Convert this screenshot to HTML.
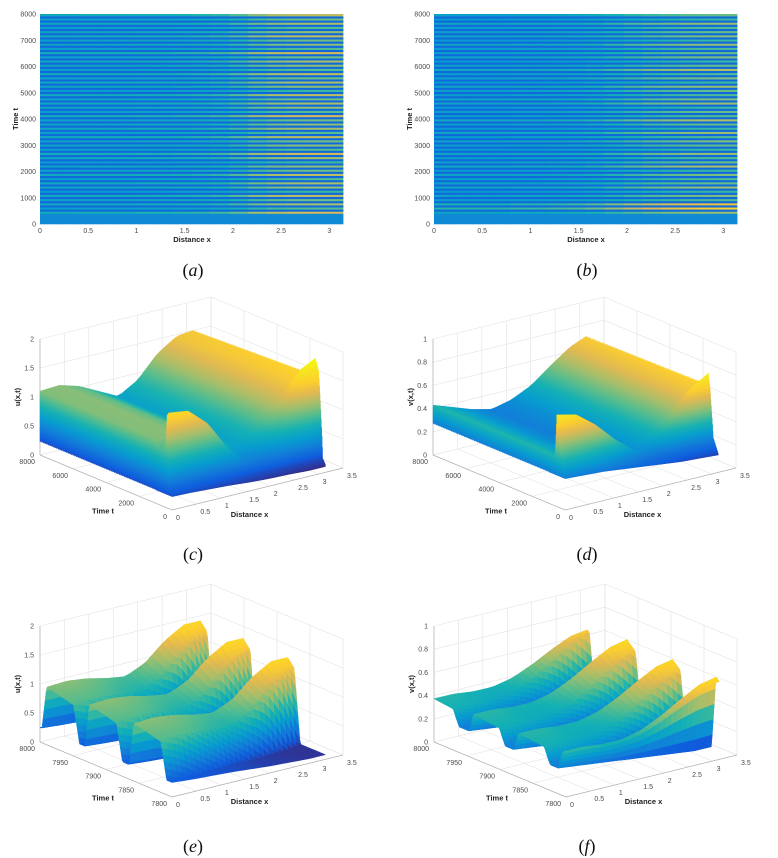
<!DOCTYPE html>
<html><head><meta charset="utf-8"><style>
html,body{margin:0;padding:0;background:#fff;}
svg{display:block;}
text{font-family:"Liberation Sans",sans-serif;}
.tick{font-size:7px;fill:#4a4a4a;}
.ttl{font-size:7.5px;font-weight:bold;fill:#222;}
.cap{font-family:"Liberation Serif",serif;font-size:18px;fill:#111;}
</style></head><body>
<svg id="fig" width="778" height="858" viewBox="0 0 778 858" xmlns="http://www.w3.org/2000/svg">
<defs id="defs"></defs>
<text class="cap" x="193" y="276" text-anchor="middle">(<tspan font-style="italic">a</tspan>)</text>
<text class="cap" x="587" y="276" text-anchor="middle">(<tspan font-style="italic">b</tspan>)</text>
<text class="cap" x="193" y="560" text-anchor="middle">(<tspan font-style="italic">c</tspan>)</text>
<text class="cap" x="587" y="560" text-anchor="middle">(<tspan font-style="italic">d</tspan>)</text>
<text class="cap" x="193" y="852" text-anchor="middle">(<tspan font-style="italic">e</tspan>)</text>
<text class="cap" x="587" y="852" text-anchor="middle">(<tspan font-style="italic">f</tspan>)</text>
</svg>
<script>
// ---------- heatmap data ----------
const heatColProfA = [0.14,0.14,0.15,0.15,0.15,0.16,0.16,0.17,0.18,0.2,0.24,0.3,0.34,0.36,0.37,0.37];
const heatAmpA = [0.9,1.0,1.3,0.8,1.1,0.9,1.2,0.7,1.0,1.1,0.8,1.2,0.9,1.0,0.7,1.1,1.3,0.8,1.0,0.9,1.2,0.8,1.1,1.0,0.9,1.3,0.8,1.0,1.1,0.9,1.2,0.7,1.0,1.1,0.9,1.2,0.8,1.0,1.1,0.9,1.3,0.8,1.0,0.9,1.2,1.0,0.8,1.1,0.9,1.2];
const heatColProfB = [0.12,0.12,0.12,0.12,0.13,0.13,0.14,0.15,0.17,0.2,0.23,0.26,0.28,0.3,0.31,0.32];
const heatAmpB = [0.8,1.0,1.2,1.9,1.7,0.9,1.1,0.8,1.2,1.0,0.9,1.1,0.8,1.3,1.0,0.9,1.2,0.8,1.0,1.1,0.9,1.2,0.8,1.0,1.3,0.9,1.0,0.8,1.2,1.1,0.9,1.0,1.2,0.8,1.1,0.9,1.3,1.0,0.8,1.1,1.0,0.9,1.2,0.8,1.1,1.0,0.9,1.2,0.8,1.0];
const heatYTicks = [0,1000,2000,3000,4000,5000,6000,7000,8000];
const heatXTicks = [0,0.5,1,1.5,2,2.5,3];
// ---------- 3D data (c,d): envelope rows ----------
const xsGrid = [0,0.4,0.8,1.2,1.6,2.0,2.4,2.8,3.14];
const rowsTC = [8000,1000,800,600,400,300,200,150,0];
const rowsTopC = [
 [1.1,1.12,1.02,0.85,0.68,0.88,1.25,1.47,1.5],
 [1.1,1.12,1.02,0.85,0.68,0.88,1.25,1.5,1.6],
 [1.0,1.0,0.9,0.8,0.65,0.8,1.2,1.65,1.75],
 [0.9,0.9,0.8,0.7,0.6,0.75,1.1,1.75,1.9],
 [1.1,1.05,0.85,0.62,0.5,0.6,0.9,1.45,1.7],
 [1.6,1.55,1.25,0.8,0.5,0.5,0.7,1.0,1.2],
 [1.65,1.6,1.3,0.8,0.45,0.4,0.5,0.6,0.6],
 [0.35,0.34,0.3,0.27,0.24,0.22,0.2,0.2,0.22],
 [0.25,0.24,0.22,0.2,0.18,0.16,0.15,0.14,0.14]];
const botC = [0.23,0.22,0.2,0.18,0.15,0.13,0.12,0.1,0.1];
const rowsTD = [8000,1000,800,600,500,400,300,0];
const rowsTopD = [
 [0.43,0.37,0.31,0.27,0.31,0.39,0.52,0.64,0.7],
 [0.43,0.37,0.31,0.27,0.31,0.39,0.52,0.66,0.72],
 [0.4,0.35,0.3,0.27,0.3,0.38,0.52,0.7,0.78],
 [0.45,0.42,0.34,0.28,0.28,0.35,0.5,0.72,0.82],
 [0.79,0.75,0.62,0.45,0.32,0.3,0.42,0.62,0.7],
 [0.78,0.74,0.6,0.44,0.3,0.28,0.35,0.45,0.5],
 [0.55,0.5,0.42,0.33,0.27,0.24,0.24,0.26,0.28],
 [0.28,0.27,0.26,0.24,0.22,0.2,0.18,0.17,0.16]];
const botD = [0.27,0.26,0.25,0.23,0.21,0.19,0.17,0.16,0.15];
// ---------- 3D data (e,f): pulse description ----------
const crestE = [1.0,1.02,0.98,0.9,0.85,1.0,1.3,1.5,1.5];
const lowE = [0.25,0.22,0.2,0.18,0.15,0.12,0.1,0.08,0.08];
const widthE = [50,48,45,42,38,34,30,25,20];
const pulseEndsE = [7990,7925,7858,7790];
const crestF = [0.38,0.38,0.36,0.36,0.4,0.48,0.58,0.67,0.7];
const lowF = [0.22,0.2,0.18,0.16,0.14,0.12,0.1,0.08,0.08];
const widthF = [48,46,43,40,37,33,29,25,22];
const pulseEndsF = [8010,7940,7872,7805];

const NS="http://www.w3.org/2000/svg";
const svg=document.getElementById('fig'), defs=document.getElementById('defs');
function mk(tag,attrs,parent){const e=document.createElementNS(NS,tag);for(const k in attrs)e.setAttribute(k,attrs[k]);(parent||svg).appendChild(e);return e;}
const PAR=[[0,[53,42,135]],[0.1,[15,92,221]],[0.2,[18,125,216]],[0.3,[7,156,207]],[0.4,[21,177,180]],[0.5,[89,189,140]],[0.6,[165,190,107]],[0.7,[225,185,82]],[0.8,[252,206,46]],[0.9,[245,227,33]],[1,[249,251,14]]];
function parula(v){v=Math.max(0,Math.min(1,v));for(let i=1;i<PAR.length;i++){if(v<=PAR[i][0]+1e-9){const a=PAR[i-1],b=PAR[i];const f=(v-a[0])/(b[0]-a[0]);return 'rgb('+[0,1,2].map(k=>Math.round(a[1][k]+f*(b[1][k]-a[1][k]))).join(',')+')';}}return 'rgb(249,251,14)';}
function interp(xs,ys,x){if(x<=xs[0])return ys[0];for(let i=1;i<xs.length;i++){if(x<=xs[i]){const f=(x-xs[i-1])/(xs[i]-xs[i-1]);return ys[i-1]+f*(ys[i]-ys[i-1]);}}return ys[ys.length-1];}

// ---------- heatmaps ----------
function drawHeat(ox,amp,colProf,name){
  const g=mk('g',{});
  
  
  const L=40+ox,W=303,B=224,H=210;
  const xS=v=>L+v/Math.PI*W, yS=t=>B-t/8000*H;
  const nc=colProf.length;
  for(let i=0;i<100;i++){
    const t0=i*80,t1=t0+80;
    for(let j=0;j<nc;j++){
      let v;
      if(t1<=400) v=0.24;
      else if(i%2===0) v=0.14;
      else v=0.2+amp[Math.floor(i/2)]*colProf[j];
      const r=mk('rect',{x:(xS(j/nc*Math.PI)).toFixed(2),y:yS(t1).toFixed(2),width:(W/nc+0.4).toFixed(2),height:(yS(t0)-yS(t1)+0.3).toFixed(2),fill:parula(v)},g);
      
      
    }
  }
  heatYTicks.forEach(t=>{const e=mk('text',{x:L-4,y:yS(t)+2.5,'text-anchor':'end',class:'tick'},g);e.textContent=t;
    });
  heatXTicks.forEach(v=>{const e=mk('text',{x:xS(v),y:B+9,'text-anchor':'middle',class:'tick'},g);e.textContent=v;
    });
  const xt=mk('text',{x:L+152,y:B+18,'text-anchor':'middle',class:'ttl'},g);xt.textContent='Distance x';
  
  const yt=mk('text',{x:0,y:0,'text-anchor':'middle',class:'ttl',transform:`translate(${L-22},${B-105}) rotate(-90)`},g);yt.textContent='Time t';
  
}
drawHeat(0,heatAmpA,heatColProfA,'heatmap-a');
drawHeat(394,heatAmpB,heatColProfB,'heatmap-b');

// ---------- 3D axes ----------
function makeProj(C,tmin,tmax,zmax){return (x,t,z)=>[C[0]+x/3.5*171+(tmax-t)/(tmax-tmin)*132, C[1]-x/3.5*42+(tmax-t)/(tmax-tmin)*55-z/zmax*116];}
function line(g,a,b,col,w,name){const l=mk('line',{x1:a[0].toFixed(2),y1:a[1].toFixed(2),x2:b[0].toFixed(2),y2:b[1].toFixed(2),stroke:col,'stroke-width':w},g);return l;}
function drawAxes3D(g,P,tmin,tmax,zmax,zticks,tticks,zlabel){
  const xt=[0,0.5,1,1.5,2,2.5,3,3.5], gc='#e3e3e3';
  xt.forEach(x=>{line(g,P(x,tmax,0),P(x,tmax,zmax),gc,0.6,'grid-line');line(g,P(x,tmax,0),P(x,tmin,0),gc,0.6,'grid-line');});
  zticks.forEach(z=>{line(g,P(0,tmax,z),P(3.5,tmax,z),gc,0.6,'grid-line');line(g,P(3.5,tmax,z),P(3.5,tmin,z),gc,0.6,'grid-line');});
  tticks.forEach(t=>{line(g,P(3.5,t,0),P(3.5,t,zmax),gc,0.6,'grid-line');line(g,P(0,t,0),P(3.5,t,0),gc,0.6,'grid-line');});
  const ac='#b0b0b0';
  line(g,P(0,tmax,0),P(0,tmax,zmax),ac,0.7,'z-axis');
  line(g,P(0,tmax,0),P(0,tmin,0),ac,0.7,'t-axis');
  line(g,P(0,tmin,0),P(3.5,tmin,0),ac,0.7,'x-axis');
  zticks.forEach(z=>{const p=P(0,tmax,z);const e=mk('text',{x:p[0]-6,y:p[1]+2.5,'text-anchor':'end',class:'tick'},g);e.textContent=z;
    });
  tticks.forEach(t=>{const p=P(0,t,0);const e=mk('text',{x:p[0]-5,y:p[1]+9,'text-anchor':'end',class:'tick'},g);e.textContent=t;
    });
  xt.forEach(x=>{const p=P(x,tmin,0);const e=mk('text',{x:p[0]+4,y:p[1]+10,'text-anchor':'start',class:'tick'},g);e.textContent=x;
    });
  let p=P(0,(tmin+tmax)/2,0);
  const tt=mk('text',{x:p[0]-3,y:p[1]+31,'text-anchor':'middle',class:'ttl'},g);tt.textContent='Time t';
  
  p=P(1.75,tmin,0);
  const dx=mk('text',{x:p[0]-8,y:p[1]+28,'text-anchor':'middle',class:'ttl'},g);dx.textContent='Distance x';
  
  p=P(0,tmax,zmax/2);
  const zl=mk('text',{x:0,y:0,'text-anchor':'middle',class:'ttl',transform:`translate(${p[0]-20},${p[1]}) rotate(-90)`},g);zl.textContent=zlabel;
  
}
let gid=0;
function gradFor(P,t,zmax,lo,hi){
  const id='gr'+(gid++);
  const lg=mk('linearGradient',{id:id,gradientUnits:'userSpaceOnUse'},defs);
  const p0=P(0,t,lo);const gx=-42/176.1, gy=-171/176.1;
  const d=(hi-lo)*116/zmax*171/176.1;
  lg.setAttribute('x1',p0[0].toFixed(2));lg.setAttribute('y1',p0[1].toFixed(2));
  lg.setAttribute('x2',(p0[0]+gx*d).toFixed(2));lg.setAttribute('y2',(p0[1]+gy*d).toFixed(2));
  PAR.forEach(s=>mk('stop',{offset:s[0],'stop-color':'rgb('+s[1].join(',')+')'},lg));
  return id;
}
function drawCurtains(g,P,rowsT,rowsTop,bot,zmax,lo,hi){
  const samples=[];
  for(let k=0;k<rowsT.length-1;k++){
    const tA=rowsT[k],tB=rowsT[k+1],step=tA>1000?100:25;
    for(let t=tA;t>tB;t-=step){const f=(tA-t)/(tA-tB);samples.push([t,rowsTop[k].map((v,i)=>v+f*(rowsTop[k+1][i]-v))]);}
  }
  samples.push([rowsT[rowsT.length-1],rowsTop[rowsTop.length-1]]);
  samples.forEach(([t,prof])=>{
    const top=[],bt=[];
    for(let j=0;j<=32;j++){const x=j/32*3.14;const zt=interp(xsGrid,prof,x);const zb=Math.min(interp(xsGrid,bot,x),zt-0.005);
      top.push(P(x,t,zt));bt.push(P(x,t,zb));}
    const pts=top.concat(bt.reverse()).map(p=>p[0].toFixed(2)+','+p[1].toFixed(2)).join(' ');
    const id=gradFor(P,t,zmax,lo,hi);
    const pg=mk('polygon',{points:pts,fill:`url(#${id})`,stroke:`url(#${id})`,'stroke-width':0.5},g);
    
    
  });
}
function pulseVal(crest,low,width,ends,x,t){
  const c=interp(xsGrid,crest,x),l=interp(xsGrid,low,x),w=interp(xsGrid,width,x);
  let s=0;
  ends.forEach(E=>{const st=E-w;if(t>=st&&t<=E+7){const r1=Math.min(1,Math.max(0,(t-st)/9));const r2=Math.min(1,Math.max(0,(E+7-t)/7));
    const lev=0.8+0.2*Math.min(1,(t-st)/w);s=Math.max(s,r1*r2*lev);}});
  return l+(c-l)*s;
}
function drawSurface(g,P,tmin,tmax,crest,low,width,ends,lo,hi){
  const nt=130,nx=28;
  const val=[];
  for(let i=0;i<=nt;i++){const t=tmax-i*(tmax-tmin)/nt;const row=[];for(let j=0;j<=nx;j++){const x=j/nx*3.14;row.push([x,t,pulseVal(crest,low,width,ends,x,t)]);}val.push(row);}
  for(let i=0;i<nt;i++){
    for(let j=nx-1;j>=0;j--){
      const v=[val[i][j],val[i][j+1],val[i+1][j+1],val[i+1][j]];
      const avg=v.reduce((s,q)=>s+q[2],0)/4;
      const col=parula((avg-lo)/(hi-lo));
      const pts=v.map(q=>{const p=P(q[0],q[1],q[2]);return p[0].toFixed(1)+','+p[1].toFixed(1);}).join(' ');
      const pg=mk('polygon',{points:pts,fill:col,stroke:col,'stroke-width':0.5,'stroke-linejoin':'round'},g);
      
      
    }
  }
}
// panel c
(function(){const g=mk('g',{});
 const P=makeProj([40,455],0,8000,2);drawAxes3D(g,P,0,8000,2,[0,0.5,1,1.5,2],[0,2000,4000,6000,8000],'u(x,t)');
 drawCurtains(g,P,rowsTC,rowsTopC,botC,2,0.1,1.9);})();
// panel d
(function(){const g=mk('g',{});
 const P=makeProj([433,455],0,8000,1);drawAxes3D(g,P,0,8000,1,[0,0.2,0.4,0.6,0.8,1],[0,2000,4000,6000,8000],'v(x,t)');
 drawCurtains(g,P,rowsTD,rowsTopD,botD,1,0.12,0.85);})();
// panel e
(function(){const g=mk('g',{});
 const P=makeProj([40,742],7800,8000,2);drawAxes3D(g,P,7800,8000,2,[0,0.5,1,1.5,2],[7800,7850,7900,7950,8000],'u(x,t)');
 drawSurface(g,P,7800,8000,crestE,lowE,widthE,pulseEndsE,0.05,1.75);})();
// panel f
(function(){const g=mk('g',{});
 const P=makeProj([434,742],7800,8000,1);drawAxes3D(g,P,7800,8000,1,[0,0.2,0.4,0.6,0.8,1],[7800,7850,7900,7950,8000],'v(x,t)');
 drawSurface(g,P,7800,8000,crestF,lowF,widthF,pulseEndsF,0.06,0.8);})();
</script>
</body></html>
